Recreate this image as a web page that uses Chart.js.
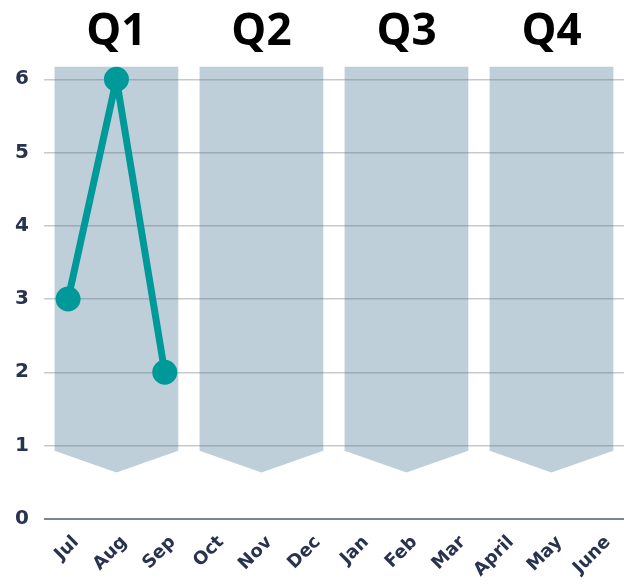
<!DOCTYPE html>
<html>
<head>
<meta charset="utf-8">
<script src="https://cdn.jsdelivr.net/npm/chart.js@4.4.0/dist/chart.umd.min.js"></script>
<style>
  body { margin: 0; background: #fff; }
</style>
</head>
<body>
<canvas id="myChart" width="624" height="585"></canvas>
<script>
// month labels along the bottom, quarter labels along the top
const months = ["Jul", "Aug", "Sep", "Oct", "Nov", "Dec", "Jan", "Feb", "Mar", "April", "May", "June"];
const quarters = ["Q1", "Q2", "Q3", "Q4"];
// first month index of every quarter
const quarterStart = [0, 3, 6, 9];
// line values (only the first quarter has data)
const values = [3, 6, 2];
// y tick values
const yTicks = [0, 1, 2, 3, 4, 5, 6];
// chevron shape in axis values: top, shoulder, tip
const chevronTop = 6.17;
const chevronShoulder = 0.93;
const chevronTip = 0.63;

const ink = "#283350";

/** draws the grey-blue chevrons behind the grid, one per quarter */
const chevrons = {
    id: "chevrons",
    beforeDraw(chart) {
        const x = chart.scales.x;
        const y = chart.scales.y;
        const ctx = chart.ctx;
        const cat = x.getPixelForValue(1) - x.getPixelForValue(0);
        const gap = cat * 0.22;
        ctx.save();
        ctx.fillStyle = "#bfcfda";
        quarterStart.forEach(s => {
            const left = x.getPixelForValue(s) - cat / 2 + gap;
            const right = x.getPixelForValue(s + 2) + cat / 2 - gap;
            const mid = x.getPixelForValue(s + 1);
            ctx.beginPath();
            ctx.moveTo(left, y.getPixelForValue(chevronTop));
            ctx.lineTo(right, y.getPixelForValue(chevronTop));
            ctx.lineTo(right, y.getPixelForValue(chevronShoulder));
            ctx.lineTo(mid, y.getPixelForValue(chevronTip));
            ctx.lineTo(left, y.getPixelForValue(chevronShoulder));
            ctx.closePath();
            ctx.fill();
        });
        ctx.restore();
    }
};

// no extra side padding from the x labels, the plot runs to the right edge
function noSidePadding(axis) {
    axis.paddingLeft = 0;
    axis.paddingRight = 0;
}

let ctx = document.getElementById("myChart").getContext("2d");
let myChart = new Chart(ctx, {
    type: "line",
    data: {
        labels: months,
        datasets: [{
            data: values,
            borderColor: "#009999",
            backgroundColor: "#009999",
            borderWidth: 7,
            borderJoinStyle: "round",
            pointRadius: 9,
            pointHoverRadius: 9,
            fill: false,
            tension: 0,
            clip: false
        }]
    },
    options: {
        responsive: false,
        animation: false,
        devicePixelRatio: 1,
        layout: { autoPadding: false, padding: { left: 0, right: 0, top: 6, bottom: -1 } },
        plugins: {
            legend: { display: false },
            tooltip: { enabled: false }
        },
        scales: {
            x: {
                offset: true,
                grid: { display: false },
                border: { display: false },
                afterFit: noSidePadding,
                ticks: {
                    color: ink,
                    font: { family: "DejaVu Sans", weight: "bold", size: 18 },
                    minRotation: 45,
                    maxRotation: 45,
                    autoSkip: false,
                    labelOffset: 8,
                    padding: 5
                }
            },
            x2: {
                type: "category",
                position: "top",
                labels: quarters,
                offset: true,
                grid: { display: false },
                border: { display: false },
                afterFit: noSidePadding,
                ticks: {
                    color: "#000",
                    font: { family: "Open Sans", weight: "bold", size: 44 },
                    padding: 0
                }
            },
            y: {
                min: 0,
                max: chevronTop,
                border: { display: false },
                grid: {
                    drawTicks: false,
                    color: c => c.tick && c.tick.value === 0 ? "#7d8393" : "rgba(90,100,120,0.35)",
                    lineWidth: c => c.tick && c.tick.value === 0 ? 2 : 1.5
                },
                afterBuildTicks: axis => {
                    axis.ticks = yTicks.map(v => ({ value: v }));
                },
                ticks: {
                    color: ink,
                    font: { family: "DejaVu Sans", weight: "bold", size: 20 },
                    padding: 15
                }
            }
        }
    },
    plugins: [chevrons]
});
</script>
</body>
</html>
